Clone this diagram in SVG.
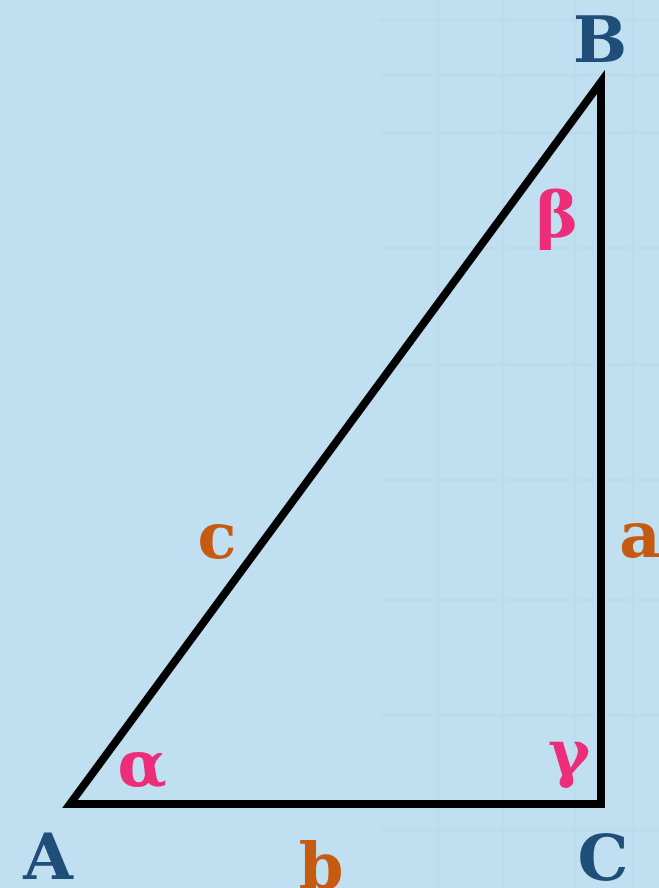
<svg xmlns="http://www.w3.org/2000/svg" width="659" height="888" viewBox="0 0 659 888">
<defs>
<style>
.lbl{font-family:"DejaVu Serif","Liberation Serif",serif;font-weight:bold}
.pt{fill:#1f4e79;font-size:64px}
.side{fill:#c55a11;font-size:64px}
.ang{fill:#ee2d7a;font-size:64px}
.grid{stroke:#b3d4ea;stroke-width:3;opacity:0.3}
</style>
</defs>
<rect width="659" height="888" fill="#c0dff1"/>
<g id="grid" class="grid">
<line x1="438" y1="0" x2="438" y2="888"/>
<line x1="503" y1="0" x2="503" y2="888"/>
<line x1="575" y1="0" x2="575" y2="888"/>
<line x1="633" y1="0" x2="633" y2="888"/>
<line x1="380" y1="20" x2="659" y2="20"/>
<line x1="380" y1="75" x2="659" y2="75"/>
<line x1="380" y1="133" x2="659" y2="133"/>
<line x1="380" y1="248" x2="659" y2="248"/>
<line x1="380" y1="365" x2="659" y2="365"/>
<line x1="380" y1="480" x2="659" y2="480"/>
<line x1="380" y1="600" x2="659" y2="600"/>
<line x1="380" y1="715" x2="659" y2="715"/>
<line x1="380" y1="830" x2="659" y2="830"/>
</g>
<g id="connectors">
<polygon id="triangle" points="70,804 601,804 601,82" fill="none" stroke="#000" stroke-width="8" stroke-linejoin="miter" stroke-miterlimit="20"/>
</g>
<g id="A"><text class="lbl pt" x="48" y="879" text-anchor="middle">A</text></g>
<g id="B"><text class="lbl pt" x="600" y="62" text-anchor="middle">B</text></g>
<g id="C"><text class="lbl pt" x="603" y="880" text-anchor="middle">C</text></g>
<g id="a"><text class="lbl side" x="640" y="557" text-anchor="middle">a</text></g>
<g id="b"><text class="lbl side" x="321" y="888" text-anchor="middle">b</text></g>
<g id="c"><text class="lbl side" x="217" y="558" text-anchor="middle">c</text></g>
<g id="alpha"><text class="lbl ang" x="142" y="786" text-anchor="middle">α</text></g>
<g id="beta"><text class="lbl ang" x="557" y="237" text-anchor="middle">β</text></g>
<g id="gamma"><text class="lbl ang" x="569" y="775" text-anchor="middle">γ</text></g>
</svg>
